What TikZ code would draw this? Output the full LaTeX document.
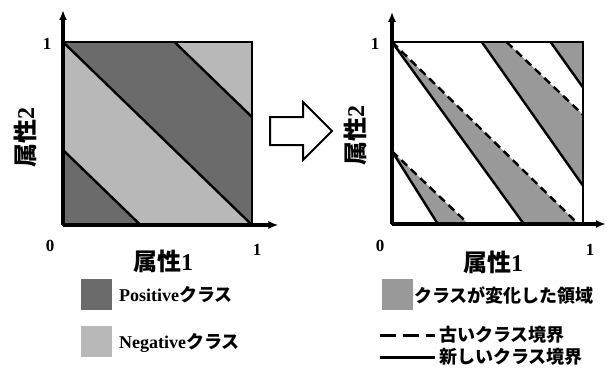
\documentclass[tikz,border=0pt]{standalone}
\usepackage{fontspec}
\setmainfont{Liberation Serif}
\newfontfamily\cjk{Noto Sans CJK JP}
\usetikzlibrary{arrows.meta}
\colorlet{posc}{black!58}
\colorlet{negc}{black!28}
\colorlet{chgc}{black!40}
\begin{document}
\begin{tikzpicture}[x=1pt,y=-1pt,
  num/.style={font=\bfseries\fontsize{17}{17}\selectfont, inner sep=0pt},
  axlab/.style={font=\fontsize{24}{24}\selectfont, inner sep=0pt},
  legtext/.style={font=\fontsize{18}{18}\selectfont, inner sep=0pt, anchor=west},
  axisline/.style={line width=3.2pt, -{Latex[length=10pt,width=8pt]}},
  bound/.style={line width=2.4pt},
  framebox/.style={line width=2.4pt},
  oldbound/.style={line width=2.4pt, dash pattern=on 8pt off 5pt},
  swatch/.style={minimum width=31pt, minimum height=31pt, inner sep=0pt, draw=none},
  bigarrow/.style={line width=2pt, fill=white, line join=miter}
  ]
\useasboundingbox (0,0) rectangle (607,367);

% ---------------- left plot ----------------
\begin{scope}[shift={(63,225)}, x={(189pt,0pt)}, y={(0pt,183pt)}]
  \coordinate (LO) at (0,0);
  \coordinate (LYT) at (0,1.175);
  \coordinate (LXT) at (1.14,0);
  \coordinate (LTR) at (1,1);
  \coordinate (La1) at (0,0.41);  \coordinate (La2) at (0.41,0);
  \coordinate (Lb1) at (0,1);     \coordinate (Lb2) at (1,0);
  \coordinate (Lc1) at (0.59,1);  \coordinate (Lc2) at (1,0.59);
  \fill[negc] (LO) rectangle (LTR);
  \fill[posc] (LO) -- (La1) -- (La2) -- cycle;
  \fill[posc] (Lb1) -- (Lb2) -- (Lc2) -- (Lc1) -- cycle;
  \draw[bound] (La1) -- (La2);
  \draw[bound] (Lb1) -- (Lb2);
  \draw[bound] (Lc1) -- (Lc2);
  \draw[framebox] (LO) rectangle (LTR);
  \draw[axisline] (LO) -- (LYT);
  \draw[axisline] (LO) -- (LXT);
\end{scope}

% ---------------- right plot ----------------
\begin{scope}[shift={(392,224)}, x={(191pt,0pt)}, y={(0pt,182pt)}]
  \coordinate (RO) at (0,0);
  \coordinate (RYT) at (0,1.166);
  \coordinate (RXT) at (1.12,0);
  \coordinate (RTR) at (1,1);
  % old boundaries
  \coordinate (Oa1) at (0,0.4);   \coordinate (Oa2) at (0.4,0);
  \coordinate (Ob1) at (0,1);     \coordinate (Ob2) at (0.975,0);
  \coordinate (Oc1) at (0.6,1);   \coordinate (Oc2) at (1,0.6);
  % new boundaries
  \coordinate (Na2) at (0.24,0);
  \coordinate (Nb2) at (0.69,0);
  \coordinate (Nc1) at (0.47,1);  \coordinate (Nc2) at (1,0.21);
  \coordinate (Nd1) at (0.83,1);  \coordinate (Nd2) at (1,0.75);
  \fill[chgc] (Oa1) -- (Na2) -- (Oa2) -- cycle;
  \fill[chgc] (Ob1) -- (Nb2) -- (Ob2) -- cycle;
  \fill[chgc] (Nc1) -- (Oc1) -- (Oc2) -- (Nc2) -- cycle;
  \fill[chgc] (Nd1) -- (RTR) -- (Nd2) -- cycle;
  \draw[oldbound] (Oa1) -- (Oa2);
  \draw[oldbound] (Ob1) -- (Ob2);
  \draw[oldbound] (Oc1) -- (Oc2);
  \draw[bound] (Oa1) -- (Na2);
  \draw[bound] (Ob1) -- (Nb2);
  \draw[bound] (Nc1) -- (Nc2);
  \draw[bound] (Nd1) -- (Nd2);
  \draw[framebox] (RO) rectangle (RTR);
  \draw[axisline] (RO) -- (RYT);
  \draw[axisline] (RO) -- (RXT);
\end{scope}

% ---------------- big arrow ----------------
\draw[bigarrow] (270,117) -- (303,117) -- (303,102) -- (332,131) -- (303,160) -- (303,145) -- (270,145) -- cycle;

% ---------------- labels left ----------------
\node[num] (l1y) at (47,44) {1};
\node[num] (l0) at (50,246) {0};
\node[num] (l1x) at (257,250) {1};
\node[axlab] (lx) at (163,261) {{\cjk\bfseries 属性}\textbf{1}};
\node[axlab, rotate=90] (ly) at (25,137) {{\cjk\bfseries 属性}\textbf{2}};

% ---------------- labels right ----------------
\node[num] (r1y) at (375,44) {1};
\node[num] (r0) at (380,246) {0};
\node[num] (r1x) at (590,250) {1};
\node[axlab] (rx) at (493,262) {{\cjk\bfseries 属性}\textbf{1}};
\node[axlab, rotate=90] (ry) at (355,135) {{\cjk\bfseries 属性}\textbf{2}};

% ---------------- legend left ----------------
\node[swatch, fill=posc] (sp) at (96.5,294) {};
\node[legtext] (tp) at (119,295) {\textbf{Positive}{\cjk\bfseries クラス}};
\node[swatch, fill=negc] (sn) at (96.5,341) {};
\node[legtext] (tn) at (119,343) {\textbf{Negative}{\cjk\bfseries クラス}};

% ---------------- legend right ----------------
\node[swatch, fill=chgc] (sc) at (397,294.5) {};
\node[legtext] (tc) at (414,295) {\cjk\bfseries クラスが変化した領域};
\coordinate (dl1) at (380,335); \coordinate (dl2) at (435,335);
\draw[line width=3pt, dash pattern=on 16pt off 7pt] (dl1) -- (dl2);
\node[legtext] (to) at (439,335) {\cjk\bfseries 古いクラス境界};
\coordinate (sl1) at (380,357); \coordinate (sl2) at (435,357);
\draw[line width=3pt] (sl1) -- (sl2);
\node[legtext] (tnw) at (439,357) {\cjk\bfseries 新しいクラス境界};
\end{tikzpicture}
\end{document}
